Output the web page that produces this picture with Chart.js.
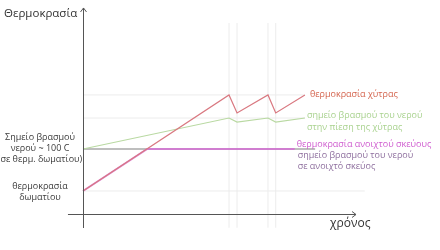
<!DOCTYPE html>
<html>
<head>
<meta charset="utf-8">
<script src="https://cdn.jsdelivr.net/npm/chart.js@4"></script>
<style>
  html, body { margin: 0; padding: 0; background: #fff; }
  #chart { display: block; }
</style>
</head>
<body>
<canvas id="chart" width="440" height="250"></canvas>
<script>
// time (arbitrary minutes) and temperature (arbitrary units, room = 20, boiling = 100)
const potTime = [0, 10, 10.55, 12.67, 13.2, 15.2];
const potTemp = [20, 203, 168.6, 203, 168.6, 203];

const boilPotTime = [0, 10, 10.55, 12.67, 13.2, 15.2];
const boilPotTemp = [100, 159, 151.4, 159, 151.4, 159];

const openTime = [0, 4.4, 14.5];
const openTemp = [20, 100, 100];

const roomTemp = 20;
const boilTemp = 100;
const markerTimes = [10, 10.55, 12.67, 13.2];

const leftLabels = [
  { value: boilTemp, lines: ['Σημείο βρασμού', 'νερού ~ 100 C', '(σε θερμ. δωματίου)'] },
  { value: roomTemp, lines: ['θερμοκρασία', 'δωματίου'] }
];
const yTitle = 'Θερμοκρασία';
const xTitle = 'χρόνος';

function pts(xs, ys) {
  return xs.map((x, i) => ({ x: x, y: ys[i] }));
}

const grid = '#ececec';
const datasets = [];

// main curves (first dataset is drawn on top)
datasets.push({ data: pts(potTime, potTemp), borderColor: '#d97880', borderWidth: 1.2 });
datasets.push({ data: pts(boilPotTime, boilPotTemp), borderColor: '#b9d9a2', borderWidth: 1.2 });
datasets.push({ data: pts(openTime, openTemp), borderColor: 'rgba(212,110,212,0.8)', borderWidth: 2 });
datasets.push({ data: pts([0, 15.9], [boilTemp, boilTemp]), borderColor: '#a9a9a9', borderWidth: 1.5 });

// light guide lines
datasets.push({ data: pts([0, 19.3], [roomTemp, roomTemp]), borderColor: grid, borderWidth: 1 });
datasets.push({ data: pts([0, 15.2], [potTemp[1], potTemp[1]]), borderColor: grid, borderWidth: 1 });
datasets.push({ data: pts([0, 15.2], [boilPotTemp[1], boilPotTemp[1]]), borderColor: grid, borderWidth: 1 });
markerTimes.forEach(t => {
  datasets.push({ data: pts([t, t], [-50, 340]), borderColor: grid, borderWidth: 1 });
});

const labelsPlugin = {
  id: 'labels',
  afterDraw(chart) {
    const ctx = chart.ctx;
    const x = chart.scales.x, y = chart.scales.y;
    const x0 = Math.round(x.getPixelForValue(0)) + 0.5;
    const yAxisY = Math.round(y.getPixelForValue(-23.8)) + 0.5;
    ctx.save();

    // axes
    ctx.strokeStyle = '#555';
    ctx.lineWidth = 1;
    const topY = y.getPixelForValue(368.6);
    const endX = x.getPixelForValue(18.7);
    ctx.beginPath();
    ctx.moveTo(x0, y.getPixelForValue(-50.5));
    ctx.lineTo(x0, topY);
    ctx.moveTo(x.getPixelForValue(-1.03), yAxisY);
    ctx.lineTo(endX, yAxisY);
    // arrow heads
    ctx.moveTo(x0 - 3, topY + 4);
    ctx.lineTo(x0, topY);
    ctx.lineTo(x0 + 3, topY + 4);
    ctx.moveTo(endX - 4, yAxisY - 3);
    ctx.lineTo(endX, yAxisY);
    ctx.lineTo(endX - 4, yAxisY + 3);
    ctx.stroke();

    // axis titles
    ctx.fillStyle = '#333';
    ctx.textBaseline = 'middle';
    ctx.textAlign = 'left';
    ctx.font = '11.5px "Open Sans", sans-serif';
    ctx.fillText(yTitle, 4, topY + 6);
    ctx.font = '12px "Open Sans", sans-serif';
    ctx.fillText(xTitle, endX - 26, yAxisY + 9);

    // left labels
    ctx.textAlign = 'center';
    ctx.fillStyle = '#3a3a3a';
    ctx.font = '9px "Open Sans", sans-serif';
    leftLabels.forEach(l => {
      const cy = y.getPixelForValue(l.value);
      const n = l.lines.length;
      l.lines.forEach((s, i) => {
        const off = n === 3 ? (i - 1) * 11 - 1 : i * 11 - 5;
        ctx.fillText(s, 40, cy + off);
      });
    });

    // right labels
    ctx.textAlign = 'left';
    ctx.font = '9px "Open Sans", sans-serif';
    const redX = x.getPixelForValue(potTime[potTime.length - 1]);
    const redY = y.getPixelForValue(potTemp[potTemp.length - 1]);
    ctx.fillStyle = '#d4644e';
    ctx.fillText('θερμοκρασία χύτρας', redX + 5, redY);

    const grX = x.getPixelForValue(boilPotTime[boilPotTime.length - 1]);
    const grY = y.getPixelForValue(boilPotTemp[boilPotTemp.length - 1]);
    ctx.fillStyle = '#a9d28f';
    ctx.fillText('σημείο βρασμού του νερού', grX + 2, grY - 3);
    ctx.fillText('στην πίεση της χύτρας', grX + 2, grY + 9);

    const puX = x.getPixelForValue(openTime[openTime.length - 1]);
    const puY = y.getPixelForValue(openTemp[openTemp.length - 1]);
    ctx.fillStyle = '#cf5ccf';
    ctx.fillText('θερμοκρασία ανοιχτού σκεύους', puX + 2, puY - 5);
    ctx.fillStyle = '#8e6f9e';
    ctx.fillText('σημείο βρασμού του νερού', puX + 3, puY + 6);
    ctx.fillText('σε ανοιχτό σκεύος', puX + 3, puY + 17);

    ctx.restore();
  }
};

new Chart(document.getElementById('chart'), {
  type: 'line',
  data: { datasets: datasets.map(d => Object.assign({ fill: false, pointRadius: 0, tension: 0 }, d)) },
  options: {
    responsive: false,
    animation: false,
    devicePixelRatio: 1,
    layout: { padding: 0 },
    plugins: { legend: { display: false }, tooltip: { enabled: false } },
    scales: {
      x: { type: 'linear', display: false, min: -5.685, max: 24.452 },
      y: { type: 'linear', display: false, min: -92.4, max: 383.8 }
    }
  },
  plugins: [labelsPlugin]
});
</script>
</body>
</html>
